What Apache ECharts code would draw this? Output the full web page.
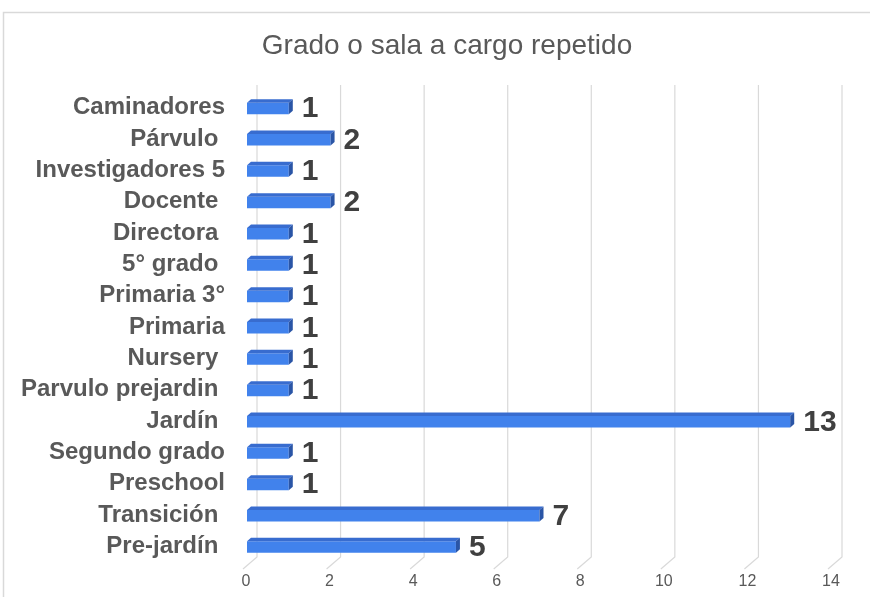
<!DOCTYPE html>
<html>
<head>
<meta charset="utf-8">
<script src="https://cdn.jsdelivr.net/npm/echarts@6/dist/echarts.min.js"></script>
<style>
html,body{margin:0;padding:0;background:#fff;}
#chart{width:870px;height:597px;}
</style>
</head>
<body>
<div id="chart"></div>
<script>
// Data (top to bottom)
const categories = ['Caminadores', 'Párvulo ', 'Investigadores 5', 'Docente ', 'Directora ', '5° grado ', 'Primaria 3°', 'Primaria', 'Nursery ', 'Parvulo prejardin ', 'Jardín ', 'Segundo grado', 'Preschool', 'Transición ', 'Pre-jardín '];
const values = [1, 2, 1, 2, 1, 1, 1, 1, 1, 1, 13, 1, 1, 7, 5];
const xTicks = [0, 2, 4, 6, 8, 10, 12, 14];
const titleText = 'Grado o sala a cargo repetido';

const FONT = "'Liberation Sans', Arial, sans-serif";
const chart = echarts.init(document.getElementById('chart'));

const barData = values.map((v, i) => [v, i]);
const gridData = xTicks.map(t => [t, 0]);

function renderGridLine(params, api) {
  const cs = params.coordSys;
  const x = api.coord([api.value(0), 0])[0];
  const top = cs.y - 7;
  const bottom = cs.y + cs.height;
  return {
    type: 'polyline',
    shape: { points: [[x + 11, top], [x + 11, bottom - 5], [x - 3, bottom + 7]] },
    style: { stroke: '#d9d9d9', lineWidth: 1.2, fill: null },
    silent: true
  };
}

function renderBar(params, api) {
  const v = api.value(0);
  const idx = api.value(1);
  const p0 = api.coord([0, idx]);
  const p1 = api.coord([v, idx]);
  const cy = p0[1];
  const x0 = p0[0] + 1, x1 = p1[0] + 1;
  const ft = cy - 5, fb = cy + 6.5;
  const dx = 4, dy = 3.5;
  return {
    type: 'group',
    children: [
      { type: 'rect', shape: { x: x0, y: ft, width: x1 - x0, height: fb - ft }, style: { fill: '#4182ec' } },
      { type: 'polygon', shape: { points: [[x0, ft], [x0 + dx, ft - dy], [x1 + dx, ft - dy], [x1, ft]] }, style: { fill: '#386ccf' } },
      { type: 'polygon', shape: { points: [[x1, ft], [x1 + dx, ft - dy], [x1 + dx, fb - dy], [x1, fb]] }, style: { fill: '#2a55a6' } },
      { type: 'text', style: { x: x1 + 13, y: cy + 1.5, text: String(v), fill: '#404040', font: 'bold 30px ' + FONT, textAlign: 'left', textVerticalAlign: 'middle' } }
    ]
  };
}

chart.setOption({
  animation: false,
  backgroundColor: '#ffffff',
  title: {
    text: titleText,
    left: 442,
    textAlign: 'center',
    top: 27,
    textStyle: { fontFamily: FONT, fontSize: 28, fontWeight: 'normal', color: '#595959' }
  },
  graphic: [{
    type: 'rect',
    shape: { x: 3.5, y: 12.5, width: 900, height: 700 },
    style: { fill: null, stroke: '#d9d9d9', lineWidth: 1.5 },
    silent: true,
    z: -10
  }],
  grid: { left: 246, right: 39, top: 92, bottom: 35, containLabel: false },
  xAxis: {
    type: 'value', min: 0, max: 14, interval: 2,
    axisLine: { show: false }, axisTick: { show: false }, splitLine: { show: false },
    axisLabel: { color: '#595959', fontSize: 16, fontFamily: FONT, margin: 12 }
  },
  yAxis: {
    type: 'category', data: categories, inverse: true,
    axisLine: { show: false }, axisTick: { show: false }, splitLine: { show: false },
    axisLabel: { color: '#595959', fontSize: 24, fontWeight: 'bold', fontFamily: FONT, margin: 21 }
  },
  series: [
    { type: 'custom', renderItem: renderGridLine, data: gridData, encode: { x: 0, y: 1 }, clip: false, z: 1, silent: true },
    { type: 'custom', renderItem: renderBar, data: barData, encode: { x: 0, y: 1 }, clip: false, z: 2 }
  ]
});
</script>
</body>
</html>
